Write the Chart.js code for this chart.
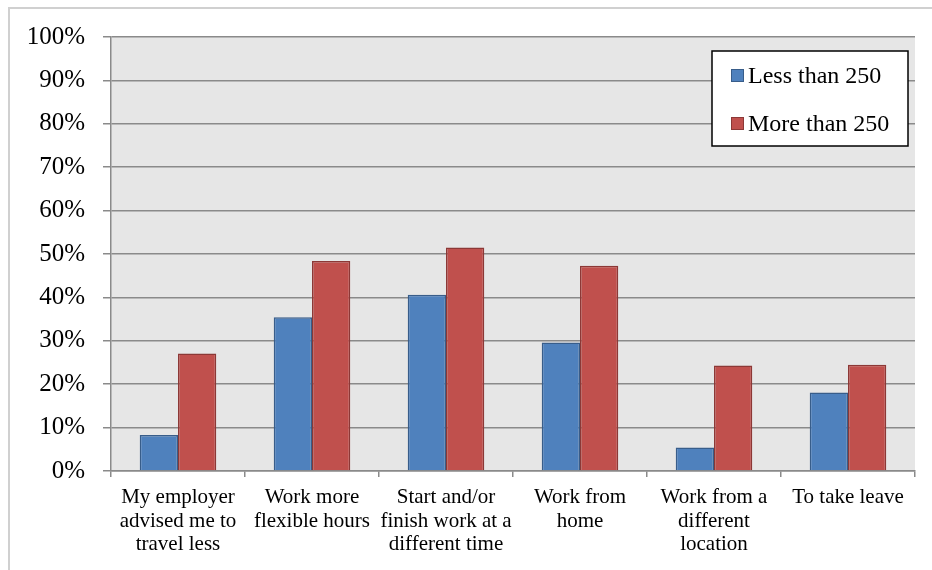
<!DOCTYPE html>
<html lang="en">
<head>
  <meta charset="UTF-8">
  <title>Travel changes by employer size</title>
  <style>
    html, body { margin: 0; padding: 0; background: #fff; overflow: hidden; }
    #wrap { position: relative; width: 932px; height: 570px; }
    #frame { position: absolute; left: 8px; top: 7px; width: 940px; height: 580px; border-left: 2px solid #d0d0d0; border-top: 2px solid #d0d0d0; box-sizing: border-box; }
    canvas { position: absolute; left: 0; top: 0; }
  </style>
</head>
<body>
  <div id="wrap">
    <div id="frame"></div>
    <canvas id="chart" width="932" height="570"></canvas>
  </div>

  <script src="https://cdn.jsdelivr.net/npm/chart.js"></script>
  <script>
    const categories = [
      ['My employer', 'advised me to', 'travel less'],
      ['Work more', 'flexible hours'],
      ['Start and/or', 'finish work at a', 'different time'],
      ['Work from', 'home'],
      ['Work from a', 'different', 'location'],
      ['To take leave']
    ];
    const seriesNames = ['Less than 250', 'More than 250'];
    const lessThan250 = [8.3, 35.4, 40.6, 29.6, 5.4, 18.1];
    const moreThan250 = [27.1, 48.4, 51.5, 47.3, 24.3, 24.5];
    const yTicks = [0, 10, 20, 30, 40, 50, 60, 70, 80, 90, 100];

    const FONT = "'Liberation Serif', 'Times New Roman', serif";
    const GRID = '#8a8a8a';

    // grey plot background
    const plotBg = {
      id: 'plotBg',
      beforeDraw(chart) {
        const { ctx, chartArea: a } = chart;
        ctx.save();
        ctx.fillStyle = '#e6e6e6';
        ctx.fillRect(a.left, a.top, a.right - a.left, a.bottom - a.top);
        ctx.restore();
      }
    };

    // boxed legend sitting inside the plot, top right
    const boxLegend = {
      id: 'boxLegend',
      afterDraw(chart) {
        const ctx = chart.ctx;
        const x = 712, y = 51, w = 196, h = 95;
        ctx.save();
        ctx.fillStyle = '#fff';
        ctx.fillRect(x, y, w, h);
        ctx.strokeStyle = '#000';
        ctx.lineWidth = 1.5;
        ctx.strokeRect(x, y, w, h);
        ctx.font = '24px ' + FONT;
        ctx.textBaseline = 'alphabetic';
        chart.data.datasets.forEach((ds, i) => {
          const cy = 75 + i * 48;
          ctx.fillStyle = ds.backgroundColor;
          ctx.fillRect(731, cy - 6, 12, 12);
          ctx.strokeStyle = ds.borderColor;
          ctx.lineWidth = 1;
          ctx.strokeRect(731.5, cy - 5.5, 12, 12);
          ctx.fillStyle = '#000';
          ctx.fillText(ds.label, 748, cy + 8);
        });
        ctx.restore();
      }
    };

    new Chart(document.getElementById('chart'), {
      type: 'bar',
      data: {
        labels: categories,
        datasets: [
          {
            label: seriesNames[0],
            data: lessThan250,
            backgroundColor: '#4f81bd',
            borderColor: '#385d8a',
            borderWidth: 1.5
          },
          {
            label: seriesNames[1],
            data: moreThan250,
            backgroundColor: '#c0504d',
            borderColor: '#8c3836',
            borderWidth: 1.5
          }
        ]
      },
      options: {
        responsive: false,
        animation: false,
        events: [],
        categoryPercentage: 2 / 3.5,
        barPercentage: 1,
        layout: { padding: { top: 37, right: 17, left: 0, bottom: 0 } },
        plugins: {
          legend: { display: false },
          tooltip: { enabled: false }
        },
        scales: {
          x: {
            afterFit: s => { s.height = 99; },
            grid: {
              display: true,
              drawOnChartArea: false,
              offset: true,
              color: GRID,
              tickLength: 6,
              lineWidth: 1.5
            },
            border: { color: GRID, width: 1.5 },
            ticks: {
              color: '#000',
              padding: 9,
              maxRotation: 0,
              autoSkip: false,
              font: { family: FONT, size: 21, lineHeight: 1.12 }
            }
          },
          y: {
            min: 0,
            max: 100,
            afterFit: s => { s.width = 111; },
            afterBuildTicks: s => { s.ticks = yTicks.map(v => ({ value: v })); },
            grid: {
              color: GRID,
              lineWidth: 1.5,
              tickLength: 8
            },
            border: { color: GRID, width: 1.5 },
            ticks: {
              color: '#000',
              padding: 18,
              font: { family: FONT, size: 25 },
              callback: v => v + '%'
            }
          }
        }
      },
      plugins: [plotBg, boxLegend]
    });
  </script>
</body>
</html>
